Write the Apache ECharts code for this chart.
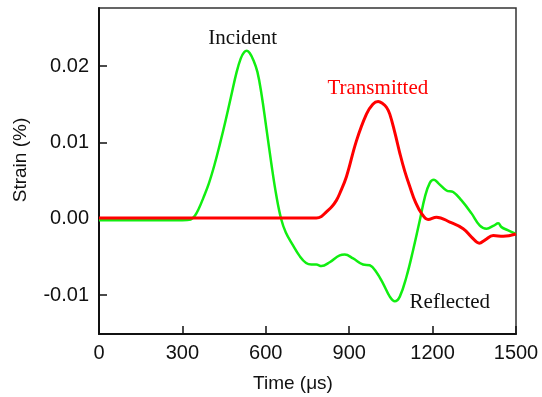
<!DOCTYPE html>
<html><head><meta charset="utf-8">
<script src="https://cdn.jsdelivr.net/npm/echarts@6/dist/echarts.min.js"></script>
<style>html,body{margin:0;padding:0;background:#fff}#c{width:542px;height:397px}</style>
</head><body><div id="c"></div>
<script>
// Green trace: incident + reflected pulse (time in µs, strain in %)
const greenTime = [0, 100, 200, 300, 330, 345, 360, 375, 395, 415, 435, 455, 475, 495, 510, 522, 532, 542, 555, 570, 585, 600, 620, 638, 655, 672, 698, 722, 745, 764, 782, 800, 830, 866, 884, 914, 950, 974, 998, 1022, 1046, 1064, 1082, 1106, 1130, 1154, 1172, 1190, 1205, 1222, 1250, 1274, 1304, 1340, 1370, 1394, 1420, 1436, 1448, 1470, 1500];
const greenStrain = [-0.0002, -0.0002, -0.0002, -0.0002, -0.0001, 0.0004, 0.0014, 0.0027, 0.0046, 0.0070, 0.0098, 0.0128, 0.0160, 0.0192, 0.0210, 0.0218, 0.0220, 0.0217, 0.0208, 0.0192, 0.0162, 0.0124, 0.0072, 0.0030, 0.0000, -0.0018, -0.0035, -0.0049, -0.0058, -0.0060, -0.0060, -0.0062, -0.0057, -0.0048, -0.0047, -0.0052, -0.0060, -0.0061, -0.0070, -0.0085, -0.0102, -0.0108, -0.0102, -0.0076, -0.0041, -0.0002, 0.0028, 0.0047, 0.0051, 0.0046, 0.0037, 0.0035, 0.0024, 0.0007, -0.0009, -0.0013, -0.0009, -0.0006, -0.0011, -0.0015, -0.0020];
// Red trace: transmitted pulse
const redTime = [0, 200, 400, 600, 782, 800, 818, 838, 854, 866, 890, 926, 962, 985, 1004, 1020, 1034, 1046, 1064, 1082, 1100, 1120, 1138, 1160, 1184, 1214, 1262, 1310, 1340, 1368, 1388, 1418, 1454, 1500];
const redStrain = [0.0001, 0.0001, 0.0001, 0.0001, 0.0001, 0.0003, 0.0009, 0.0016, 0.0024, 0.0033, 0.0055, 0.0102, 0.0137, 0.0150, 0.01535, 0.0151, 0.0146, 0.0137, 0.0113, 0.0086, 0.0062, 0.0040, 0.0022, 0.0007, -0.0001, 0.0002, -0.00044, -0.0013, -0.0024, -0.0032, -0.0028, -0.0022, -0.0023, -0.0020];
// Axis ticks
const xTicks = [0, 300, 600, 900, 1200, 1500];
const yTicks = [-0.01, 0.00, 0.01, 0.02];
// Annotations
const annText = ['Incident', 'Transmitted', 'Reflected'];
const annTime = [517, 1003, 1262];
const annStrain = [0.0236, 0.0171, -0.0110];
const annColor = ['#111', '#ff0000', '#111'];

const pairs = (xs, ys) => xs.map((x, i) => [x, ys[i]]);
const chart = echarts.init(document.getElementById('c'), null, {renderer: 'canvas'});
const fontSans = '"Liberation Sans", Arial, sans-serif';
const option = {
  animation: false,
  backgroundColor: '#fff',
  grid: {left: 99, right: 26, top: 8, bottom: 63, show: true, borderColor: '#333', borderWidth: 1.5, containLabel: false},
  xAxis: {
    type: 'value', min: 0, max: 1500, interval: 300,
    axisLine: {show: true, onZero: false, lineStyle: {color: '#111', width: 2}},
    axisTick: {show: true, inside: true, length: 8, customValues: xTicks, lineStyle: {color: '#111', width: 1.5}},
    axisLabel: {color: '#111', fontSize: 20, fontFamily: fontSans, margin: 9, customValues: xTicks,
      formatter: v => String(v)},
    splitLine: {show: false}
  },
  yAxis: {
    type: 'value', min: -0.0151, max: 0.0276,
    axisLine: {show: true, onZero: false, lineStyle: {color: '#111', width: 2}},
    axisTick: {show: true, inside: true, length: 8, customValues: yTicks, lineStyle: {color: '#111', width: 1.5}},
    axisLabel: {color: '#111', fontSize: 20, fontFamily: fontSans, margin: 10, customValues: yTicks,
      formatter: v => v.toFixed(2)},
    splitLine: {show: false}
  },
  series: [
    {type: 'line', data: pairs(greenTime, greenStrain), symbol: 'none', smooth: 0.4,
      lineStyle: {color: '#11ee11', width: 2.5}, z: 2},
    {type: 'line', data: pairs(redTime, redStrain), symbol: 'none', smooth: 0.4,
      lineStyle: {color: '#ff0000', width: 3}, z: 3}
  ]
};
chart.setOption(option);

const graphics = annText.map((t, i) => {
  const p = chart.convertToPixel({gridIndex: 0}, [annTime[i], annStrain[i]]);
  return {type: 'text', x: p[0], y: p[1], z: 10,
    style: {text: t, fill: annColor[i], font: '21px "Liberation Serif", "Times New Roman", serif', align: 'center', verticalAlign: 'middle'}};
});
graphics.push({type: 'text', x: 293, y: 384, z: 10,
  style: {text: 'Time (\u03bcs)', fill: '#111', font: '19px ' + fontSans, align: 'center', verticalAlign: 'middle'}});
graphics.push({type: 'text', x: 21, y: 160, rotation: Math.PI / 2, z: 10,
  style: {text: 'Strain (%)', fill: '#111', font: '19px ' + fontSans, align: 'center', verticalAlign: 'middle'}});
chart.setOption({graphic: graphics});
</script></body></html>
